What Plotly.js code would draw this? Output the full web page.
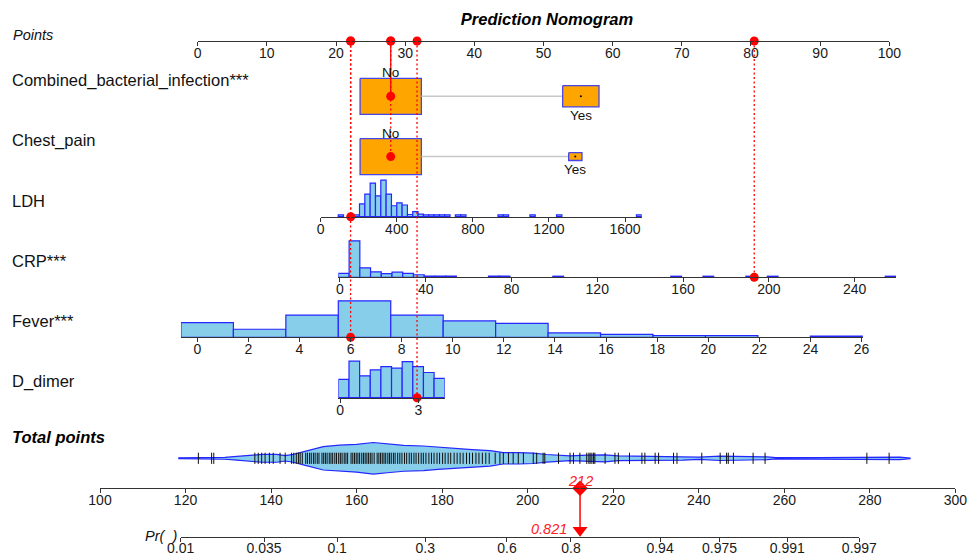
<!DOCTYPE html>
<html>
<head>
<meta charset="utf-8">
<script src="https://cdn.plot.ly/plotly-3.0.1.min.js"></script>
<style>
html,body{margin:0;padding:0;background:#ffffff;}
#chart{width:969px;height:554px;}
</style>
</head>
<body>
<div id="chart"></div>
<script>
// ===================== DATA =====================
const pointsTicks = [0,10,20,30,40,50,60,70,80,90,100];
const totalTicks  = [100,120,140,160,180,200,220,240,260,280,300];
const prTicks     = [0.01,0.035,0.1,0.3,0.6,0.8,0.94,0.975,0.991,0.997];
const prTickText  = ['0.01','0.035','0.1','0.3','0.6','0.8','0.94','0.975','0.991','0.997'];

const varLabels = ['Combined_bacterial_infection***','Chest_pain','LDH','CRP***','Fever***','D_dimer'];

// categorical predictors: points per level and relative frequency
const cbiLevels   = ['No','Yes'];
const cbiPoints   = [27.91, 55.4];
const cbiFreq     = [0.74, 0.26];
const chestLevels = ['No','Yes'];
const chestPoints = [27.91, 54.6];
const chestFreq   = [0.955, 0.045];

// continuous predictors: points = intercept + slope * value  (LDH, CRP, Fever, D_dimer)
const contIntercept = [17.785, 20.56, -0.058, 20.58];
const contSlope     = [0.0275, 0.3101, 3.694, 3.774];

const ldhTicks    = [0,400,800,1200,1600];
const ldhBinStart = 92, ldhBinWidth = 28;
const ldhCounts   = [0.05,0,0,0.05,0.35,0.62,0.92,0.57,1.0,0.62,0.30,0.38,0.32,0.06,0.14,0.07,
                     0.05,0.05,0.05,0.05,0.05,0,0.05,0.05,0,0,0,0,0,0,0.05,0.05,0,0,0,0,0.05,
                     0,0,0,0,0.05,0,0,0,0,0,0,0,0,0,0,0,0,0,0,0.05];

const crpTicks    = [0,40,80,120,160,200,240];
const crpBinStart = -0.7, crpBinWidth = 5;
const crpCounts   = [0.11,1.0,0.26,0.15,0.10,0.14,0.11,0.07,0.03,0.03,0.03,0,0,0,0.03,0.03,0,0,0,0,
                     0.03,0,0,0,0,0,0,0,0,0,0,0.03,0,0,0.03,0,0,0,0.03,0,0.03,0,0,0,0,0,0,0,0,0,0,0.03];

const feverTicks    = [0,2,4,6,8,10,12,14,16,18,20,22,24,26];
const feverBinStart = -0.64, feverBinWidth = 2.053;
const feverCounts   = [0.40,0.22,0.61,1.0,0.61,0.45,0.38,0.12,0.08,0.05,0.05,0,0.03];

const ddimerTicks    = [0,3];
const ddimerBinStart = -0.064, ddimerBinWidth = 0.4075;
const ddimerCounts   = [0.50,1.0,0.60,0.76,0.85,0.81,0.99,0.85,0.69,0.53];

// the observation being scored
const selectedCat  = ['No','No'];
const selectedCont = [158, 193.2, 6, 2.95];

// probability scale: logit(p) = (total - logitMidTotal) / logitScale
const logitMidTotal = 188.97, logitScale = 15.256;

// distribution of total points (violin outline + rug)
const totalViolinX = [118.3,124,129.2,132,135.1,138,141.3,143.3,145.2,148,152.2,156,160,163.9,167.8,171,
                      175.6,179,183.4,187,191.2,194.3,198,201.3,204.4,209.9,214,218,221.2,228,236.3,240,
                      245,249.6,252,256,258,268,276.9,280,287,289.4];
const totalViolinDensity = [0.03,0.05,0.06,0.12,0.21,0.25,0.25,0.17,0.25,0.45,0.74,0.83,0.88,1.0,0.9,0.82,
                      0.78,0.7,0.64,0.55,0.49,0.36,0.36,0.33,0.24,0.15,0.2,0.22,0.15,0.13,0.12,0.07,
                      0.14,0.14,0.1,0.09,0.04,0.04,0.04,0.08,0.08,0.02];
const totalRug = [123.0,126.1,126.6,136.2,137.0,137.8,138.6,139.6,140.5,142.1,143.3,
  144.8,145.3,145.9,146.4,146.8,147.3,148.1,148.5,149.0,149.4,149.9,150.3,150.8,151.2,151.9,152.3,152.7,
  153.1,153.6,154.0,154.4,154.9,155.3,155.8,156.2,156.6,157.1,157.5,157.9,158.7,159.1,159.5,159.9,160.3,
  160.7,161.2,161.6,162.0,162.4,162.8,163.2,163.6,164.1,164.8,165.2,165.6,166.0,166.4,166.8,167.3,167.7,
  168.1,168.6,169.0,169.6,170.1,170.6,171.2,171.7,172.3,172.8,173.4,173.9,174.5,175.1,175.6,176.2,176.9,
  177.5,178.1,178.8,179.4,180.1,180.7,181.4,182.0,182.8,183.5,184.2,184.9,185.7,186.4,187.1,187.9,188.6,
  189.4,190.2,191.0,192.4,193.5,194.3,195.5,196.6,197.8,199.0,201.3,202.1,203.6,204.0,207.2,209.9,210.7,
  212.2,213.8,214.3,214.6,215.0,215.4,215.7,218.1,220.4,221.2,223.8,226.7,227.4,229.8,230.6,234.1,234.9,
  240.7,245.0,246.5,246.9,248.1,252.7,255.5,279.3,284.5];

// ===================== LAYOUT CONSTANTS =====================
const W = 969, H = 554;
const FONT = 'Liberation Sans, Arial, sans-serif';
const PTS_PX0 = 197.7, PTS_PX_PER = 6.916;     // points axis pixel mapping
const TOT_PX0 = 100, TOT_PX_PER = 4.277;       // total points axis: pixel of 100, px per point
const ROW = {points:41, cbi:96.3, chest:156.6, ldh:216.7, crp:277.3, fever:337.3, ddimer:397.7,
             violin:458.3, total:488.3, pr:536.7};
const HIST_H = 36.5, VIOLIN_H = 15.8, BOX_W_PTS = 8.863, BOX_H = 36;
const RED = '#FF0000', SKY = '#87CEEB', BLUE = '#2626FF';

function ptsToPx(p){ return PTS_PX0 + PTS_PX_PER*p; }
function totToPx(t){ return TOT_PX0 + TOT_PX_PER*(t-100); }
function logit(p){ return Math.log(p/(1-p)); }

const axisCommon = {
  anchor:'free', showline:true, linecolor:'#333', linewidth:1,
  ticks:'outside', ticklen:4, tickwidth:1, tickcolor:'#333', ticklabelstandoff:-5,
  showgrid:false, zeroline:false, fixedrange:true, tickmode:'array',
  tickfont:{family:FONT, size:14, color:'#1a1a1a'}
};
function mkAxis(domPx0, domPx1, v0, v1, rowY, ticks, text){
  return Object.assign({}, axisCommon, {
    domain:[domPx0/W, domPx1/W], range:[v0, v1], position:1-rowY/H,
    tickvals:ticks, ticktext:text || ticks.map(String)
  });
}
function varAxis(i, v0, v1, rowY, ticks){
  const a = contIntercept[i], b = contSlope[i];
  return mkAxis(ptsToPx(a+b*v0), ptsToPx(a+b*v1), v0, v1, rowY, ticks);
}

// axis extents derived from ticks and bins
const ldhEnd = ldhBinStart + ldhCounts.length*ldhBinWidth;
const crpEnd = crpBinStart + crpCounts.length*crpBinWidth;
const feverEnd = feverBinStart + feverCounts.length*feverBinWidth;
const ddEnd = ddimerBinStart + ddimerCounts.length*ddimerBinWidth;

const prL0 = logit(prTicks[0]), prL1 = logit(prTicks[prTicks.length-1]);
const prAxis = mkAxis(totToPx(logitMidTotal+logitScale*prL0), totToPx(logitMidTotal+logitScale*prL1),
                 prL0, prL1, ROW.pr, prTicks.map(logit), prTickText);
prAxis.ticklabelstandoff = -6;

const layout = {
  width:W, height:H, margin:{l:0,r:0,t:0,b:0},
  paper_bgcolor:'#ffffff', plot_bgcolor:'rgba(0,0,0,0)',
  showlegend:false, hovermode:false, barmode:'overlay',
  title:{text:'<b><i>Prediction Nomogram</i></b>', font:{family:FONT, size:16.5, color:'#000'},
         x:547/W, xanchor:'center', y:1-19/H, yanchor:'middle', xref:'container', yref:'container'},
  yaxis:{domain:[0,1], range:[H,0], visible:false, fixedrange:true},
  xaxis : mkAxis(ptsToPx(0), ptsToPx(100), 0, 100, ROW.points, pointsTicks),
  xaxis2: varAxis(0, Math.min(ldhTicks[0], ldhBinStart), ldhEnd, ROW.ldh, ldhTicks),
  xaxis3: varAxis(1, crpBinStart, crpEnd, ROW.crp, crpTicks),
  xaxis4: varAxis(2, feverBinStart, feverEnd, ROW.fever, feverTicks),
  xaxis5: varAxis(3, ddimerBinStart, ddEnd, ROW.ddimer, ddimerTicks),
  xaxis6: mkAxis(totToPx(100), totToPx(300), 100, 300, ROW.total, totalTicks),
  xaxis7: prAxis,
  shapes:[], annotations:[]
};

const traces = [];

// ---- categorical boxes ----
function catRow(levels, pts, freq, rowY, sel){
  const maxF = Math.max(...freq);
  for (let i=0;i<levels.length;i++){
    const s = Math.sqrt(freq[i]/maxF);
    const hw = BOX_W_PTS*s/2, hh = BOX_H*s/2;
    if (i>0){
      const prevS = Math.sqrt(freq[i-1]/maxF);
      traces.push({type:'scatter', mode:'lines', xaxis:'x', yaxis:'y',
        x:[pts[i-1]+BOX_W_PTS*prevS/2, pts[i]-hw], y:[rowY,rowY],
        line:{color:'#C8C8C8', width:1.5}, hoverinfo:'skip'});
    }
    traces.push({type:'scatter', mode:'lines', xaxis:'x', yaxis:'y', fill:'toself', fillcolor:'#FFA500',
      x:[pts[i]-hw, pts[i]+hw, pts[i]+hw, pts[i]-hw, pts[i]-hw],
      y:[rowY-hh, rowY-hh, rowY+hh, rowY+hh, rowY-hh],
      line:{color:'#4646E6', width:1.3}, hoverinfo:'skip'});
    traces.push({type:'scatter', mode:'markers', xaxis:'x', yaxis:'y', x:[pts[i]], y:[rowY],
      marker:{color:'#000', size:2}, hoverinfo:'skip', cliponaxis:false});
    layout.annotations.push({xref:'x', yref:'y', x:pts[i], y: i===0 ? rowY-hh-5.5 : rowY+hh+8.5,
      text:levels[i], showarrow:false, xanchor:'center', yanchor:'middle',
      font:{family:FONT, size:13.5, color:'#111'}});
  }
  const k = levels.indexOf(sel);
  return pts[k];
}
const cbiSelPts = catRow(cbiLevels, cbiPoints, cbiFreq, ROW.cbi, selectedCat[0]);
const chestSelPts = catRow(chestLevels, chestPoints, chestFreq, ROW.chest, selectedCat[1]);

// ---- histograms ----
function histTrace(start, width, counts, xa, base){
  const xs=[], ys=[];
  counts.forEach((c,i)=>{ if (c>0){ xs.push(start+(i+0.5)*width); ys.push(-c*HIST_H); } });
  return {type:'bar', x:xs, y:ys, base:base, width:width, xaxis:xa, yaxis:'y',
    marker:{color:SKY, line:{color:BLUE, width:1.2}}, hoverinfo:'skip'};
}
traces.push(histTrace(ldhBinStart, ldhBinWidth, ldhCounts, 'x2', ROW.ldh));
traces.push(histTrace(crpBinStart, crpBinWidth, crpCounts, 'x3', ROW.crp));
traces.push(histTrace(feverBinStart, feverBinWidth, feverCounts, 'x4', ROW.fever));
traces.push(histTrace(ddimerBinStart, ddimerBinWidth, ddimerCounts, 'x5', ROW.ddimer));

// ---- total points violin + rug ----
const vx = totalViolinX.concat(totalViolinX.slice().reverse());
const vy = totalViolinDensity.map(d=>ROW.violin - d*VIOLIN_H)
  .concat(totalViolinDensity.slice().reverse().map(d=>ROW.violin + d*VIOLIN_H));
traces.push({type:'scatter', mode:'lines', xaxis:'x6', yaxis:'y', x:vx, y:vy, fill:'toself',
  fillcolor:SKY, line:{color:BLUE, width:1.2}, hoverinfo:'skip'});
traces.push({type:'scatter', mode:'markers', xaxis:'x6', yaxis:'y', x:totalRug,
  y:totalRug.map(()=>ROW.violin), cliponaxis:false,
  marker:{symbol:'line-ns-open', size:8, color:'#111', line:{width:1, color:'#111'}}, hoverinfo:'skip'});

// ---- scoring of the selected observation ----
const contRows = [ROW.ldh, ROW.crp, ROW.fever, ROW.ddimer];
const contAxes = ['x2','x3','x4','x5'];
const contSelPts = selectedCont.map((v,i)=>contIntercept[i] + contSlope[i]*v);
const allSelPts = [cbiSelPts, chestSelPts].concat(contSelPts);
const allRows = [ROW.cbi, ROW.chest].concat(contRows);
const totalPts = allSelPts.reduce((a,b)=>a+b, 0);
const totalLogit = (totalPts - logitMidTotal)/logitScale;
const prob = 1/(1+Math.exp(-totalLogit));

allSelPts.forEach((p,i)=>{
  layout.shapes.push({type:'line', xref:'x', yref:'y', x0:p, x1:p, y0:ROW.points, y1:allRows[i],
    layer:'above', line:{color:RED, width:1.3, dash: i===0 ? 'solid' : '2px,2.5px'}});
});
// dots on the points axis
traces.push({type:'scatter', mode:'markers', xaxis:'x', yaxis:'y', x:allSelPts,
  y:allSelPts.map(()=>ROW.points), marker:{color:RED, size:9}, cliponaxis:false, hoverinfo:'skip'});
// dots on categorical rows
traces.push({type:'scatter', mode:'markers', xaxis:'x', yaxis:'y', x:[cbiSelPts, chestSelPts],
  y:[ROW.cbi, ROW.chest], marker:{color:RED, size:9}, cliponaxis:false, hoverinfo:'skip'});
// dots on continuous axes
selectedCont.forEach((v,i)=>{
  traces.push({type:'scatter', mode:'markers', xaxis:contAxes[i], yaxis:'y', x:[v], y:[contRows[i]],
    marker:{color:RED, size:9}, cliponaxis:false, hoverinfo:'skip'});
});
// total points diamond, arrow to probability
traces.push({type:'scatter', mode:'markers', xaxis:'x6', yaxis:'y', x:[totalPts], y:[ROW.total],
  marker:{color:RED, size:12, symbol:'diamond'}, cliponaxis:false, hoverinfo:'skip'});
layout.shapes.push({type:'line', xref:'x6', yref:'y', x0:totalPts, x1:totalPts, y0:ROW.total, y1:ROW.pr-8,
  layer:'above', line:{color:RED, width:1.5}});
traces.push({type:'scatter', mode:'markers', xaxis:'x7', yaxis:'y', x:[totalLogit], y:[ROW.pr-6.5],
  marker:{color:RED, size:13, symbol:'triangle-down'}, cliponaxis:false, hoverinfo:'skip'});
layout.annotations.push({xref:'x6', yref:'y', x:totalPts, y:ROW.total-7, text:'<i>'+Math.round(totalPts)+'</i>',
  showarrow:false, xanchor:'center', yanchor:'middle', font:{family:FONT, size:14.5, color:'#FF2020'}});
layout.annotations.push({xref:'x7', yref:'y', x:totalLogit, xshift:-11, y:ROW.pr-8, text:'<i>'+prob.toFixed(3)+'</i>',
  showarrow:false, xanchor:'right', yanchor:'middle', font:{family:FONT, size:14.5, color:'#FF2020'}});

// ---- row labels ----
const labelRows = [ROW.cbi, ROW.chest, ROW.ldh, ROW.crp, ROW.fever, ROW.ddimer];
varLabels.forEach((t,i)=>{
  layout.annotations.push({xref:'paper', yref:'y', x:10/W, y:labelRows[i]-16, text:t, showarrow:false,
    xanchor:'left', yanchor:'middle', font:{family:FONT, size:16.5, color:'#111'}});
});
layout.annotations.push({xref:'paper', yref:'y', x:11/W, y:35, text:'<i>Points</i>', showarrow:false,
  xanchor:'left', yanchor:'middle', font:{family:FONT, size:14.5, color:'#111'}});
layout.annotations.push({xref:'paper', yref:'y', x:10/W, y:437, text:'<b><i>Total points</i></b>', showarrow:false,
  xanchor:'left', yanchor:'middle', font:{family:FONT, size:16.5, color:'#000'}});
layout.annotations.push({xref:'paper', yref:'y', x:179/W, y:ROW.pr-1, text:'<i>Pr(&nbsp;&nbsp;)</i>', showarrow:false,
  xanchor:'right', yanchor:'middle', font:{family:FONT, size:14.5, color:'#111'}});

Plotly.newPlot('chart', traces, layout, {staticPlot:true, displayModeBar:false});
</script>
</body>
</html>
